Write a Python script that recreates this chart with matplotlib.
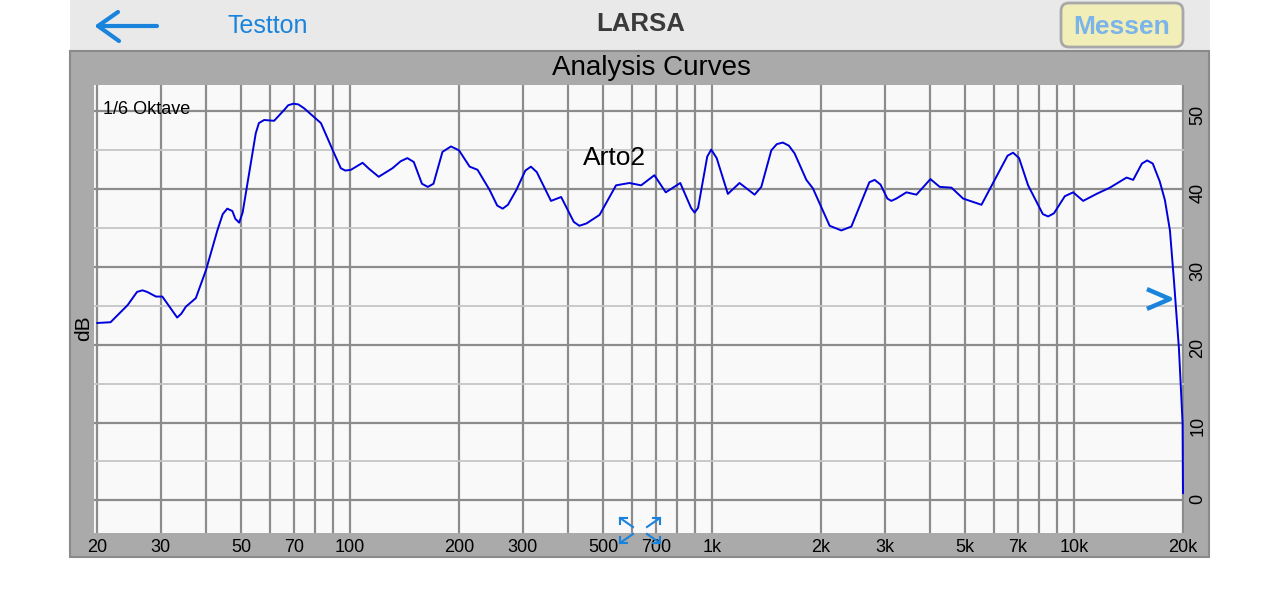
import matplotlib.pyplot as plt
from matplotlib.patches import Rectangle, FancyBboxPatch
from matplotlib.lines import Line2D
from matplotlib.transforms import Affine2D
from matplotlib.ticker import FixedLocator, FixedFormatter, NullLocator

plt.rcParams['font.family'] = ['Liberation Sans', 'DejaVu Sans']

# ---- data (frequency in Hz, level in dB) ----
freq = [20, 21.8, 24.3, 25.8, 26.7, 27.5, 29.1, 30.3, 32.7, 33.3, 34.2,
        35.2, 37.5, 40.0, 43.0, 44.5, 45.8, 47.3, 48.2, 49.4, 50.5,
        52.1, 54.9, 56.0, 57.9, 61.7, 65.8, 67.5, 69.8, 72.0, 74.7,
        83.1, 90.4, 94.3, 97.0, 100.6, 108.3, 113, 120, 131, 138,
        144, 150, 158, 164, 170, 180, 190, 200, 214, 225,
        243, 255, 264, 273, 288, 305, 316, 328, 359, 383,
        415, 430, 450, 489, 543, 591, 637, 693, 745, 817,
        875, 895, 915, 970, 995, 1030, 1106, 1191, 1311, 1368,
        1458, 1510, 1569, 1630, 1691, 1822, 1900, 2113, 2276, 2426,
        2720, 2814, 2920, 3050, 3128, 3230, 3443, 3669, 4012, 4256,
        4586, 4938, 5550, 5975, 6550, 6786, 7050, 7466, 8200, 8480,
        8800, 9431, 9944, 10598, 11540, 12562, 13968, 14568, 15400, 15922,
        16500, 17250, 17826, 18404, 18878, 19490, 19949, 20000]
level = [22.8, 22.9, 25.1, 26.8, 27.0, 26.8, 26.2, 26.2, 24.0, 23.5, 24.0,
         24.9, 26.0, 29.6, 34.7, 36.8, 37.5, 37.2, 36.2, 35.7, 37.0,
         40.8, 47.2, 48.5, 48.9, 48.8, 50.2, 50.8, 51.0, 50.9, 50.4,
         48.5, 44.6, 42.7, 42.4, 42.5, 43.4, 42.6, 41.6, 42.7, 43.6,
         44.0, 43.5, 40.7, 40.3, 40.7, 44.8, 45.5, 45.0, 42.9, 42.5,
         39.9, 37.9, 37.5, 38.0, 39.9, 42.4, 42.9, 42.2, 38.5, 39.0,
         35.8, 35.3, 35.6, 36.7, 40.5, 40.8, 40.5, 41.8, 39.6, 40.8,
         37.6, 37.0, 37.6, 44.2, 45.1, 44.0, 39.4, 40.8, 39.3, 40.3,
         45.0, 45.8, 46.0, 45.6, 44.6, 41.2, 40.1, 35.3, 34.7, 35.2,
         40.9, 41.2, 40.6, 38.8, 38.5, 38.8, 39.6, 39.3, 41.3, 40.3,
         40.2, 38.8, 38.0, 40.8, 44.3, 44.7, 44.0, 40.5, 36.8, 36.5,
         36.9, 39.1, 39.6, 38.5, 39.4, 40.2, 41.5, 41.2, 43.3, 43.7,
         43.3, 41.0, 38.6, 34.7, 28.3, 19.5, 9.9, 0.9]

grid_freqs = [20, 30, 40, 50, 60, 70, 80, 90,
              100, 200, 300, 400, 500, 600, 700, 800, 900,
              1000, 2000, 3000, 4000, 5000, 6000, 7000, 8000, 9000,
              10000, 20000]
freq_labels = {20: '20', 30: '30', 50: '50', 70: '70', 100: '100', 200: '200',
               300: '300', 500: '500', 700: '700', 1000: '1k', 2000: '2k',
               3000: '3k', 5000: '5k', 7000: '7k', 10000: '10k', 20000: '20k'}
db_major = [0, 10, 20, 30, 40, 50]
db_minor = [5, 15, 25, 35, 45]

W, H = 1280, 591
blue = '#1a84dc'

fig = plt.figure(figsize=(12.8, 5.91), dpi=100)
fig.patch.set_facecolor('white')
# pixel coords with origin top-left
pix = Affine2D().scale(1, -1).translate(0, H)

# header bar + gray panel (behind the axes)
fig.add_artist(Rectangle((70, 0), 1140, 50, transform=pix, facecolor='#e9e9e9',
                         edgecolor='none', zorder=-2))
fig.add_artist(Rectangle((70, 51), 1139, 506, transform=pix, facecolor='#aaaaaa',
                         edgecolor='#8a8a8a', linewidth=1.5, zorder=-2))

# header content
fig.add_artist(Line2D([98, 157], [26, 26], transform=pix, color=blue, lw=3, solid_capstyle='round'))
fig.add_artist(Line2D([118, 98, 119], [12, 26, 41], transform=pix, color=blue, lw=3,
                      solid_capstyle='round', solid_joinstyle='round'))
fig.text(268, 26, 'Testton', transform=pix, color=blue, size=18, ha='center', va='center')
fig.text(641, 24, 'LARSA', transform=pix, color='#3a3a3a', size=18.5, weight='bold',
         ha='center', va='center')
fig.add_artist(FancyBboxPatch((1061, 3), 122, 44, transform=pix,
                              boxstyle='round,pad=0,rounding_size=8',
                              facecolor='#f2eeb8', edgecolor='#a8a8a8', linewidth=2))
fig.text(1122, 27, 'Messen', transform=pix, color='#7ab4e8', size=19, weight='bold',
         ha='center', va='center')

fig.text(651, 68, 'Analysis Curves', transform=pix, size=20, ha='center', va='center')
fig.text(84, 328, 'dB', transform=pix, size=15, rotation=90, ha='center', va='center')

# plot area
ax = fig.add_axes([94 / W, 1 - 533 / H, 1090 / W, 448 / H])
ax.set_facecolor('#f9f9f9')
ax.set_xscale('log')
ax.set_xlim(19.62, 20127)
ax.set_ylim(-4.2, 53.4)

ax.xaxis.set_major_locator(FixedLocator(grid_freqs))
ax.xaxis.set_major_formatter(FixedFormatter([freq_labels.get(f, '') for f in grid_freqs]))
ax.xaxis.set_minor_locator(NullLocator())
ax.yaxis.tick_right()
ax.set_yticks(db_major)
ax.set_yticks(db_minor, minor=True)

ax.tick_params(axis='x', length=0, pad=4, labelsize=13)
ax.tick_params(axis='y', which='both', length=0, pad=4, labelsize=13, labelrotation=90)
ax.yaxis.set_minor_formatter(FixedFormatter([]))

ax.set_axisbelow(True)
ax.grid(True, which='major', color='#8c8c8c', lw=1.6)
ax.grid(True, which='minor', axis='y', color='#c6c6c6', lw=1.3)
for s in ax.spines.values():
    s.set_visible(False)

ax.plot(freq, level, color='#0000dd', lw=1.4, zorder=3,
        solid_joinstyle='round', solid_capstyle='round')

ax.text(0.008, 0.945, '1/6 Oktave', transform=ax.transAxes, size=13, ha='left',
        va='center', zorder=2)
fig.text(615, 158, 'Arto2', transform=pix, size=19, ha='center', va='center')

# ">" chevron and expand icon
fig.add_artist(Line2D([1149, 1170, 1149], [290, 299, 308], transform=pix, color=blue, lw=3.2))
for (cx, cy, dx, dy) in [(620, 518, 1, 1), (660, 518, -1, 1), (620, 543, 1, -1), (660, 543, -1, -1)]:
    fig.add_artist(Line2D([cx, cx + 13 * dx], [cy, cy + 9 * dy], transform=pix, color=blue, lw=1.5))
    fig.add_artist(Line2D([cx + 7 * dx, cx, cx], [cy, cy, cy + 6 * dy], transform=pix,
                          color=blue, lw=1.5))

fig.savefig('out.png', dpi=100)
